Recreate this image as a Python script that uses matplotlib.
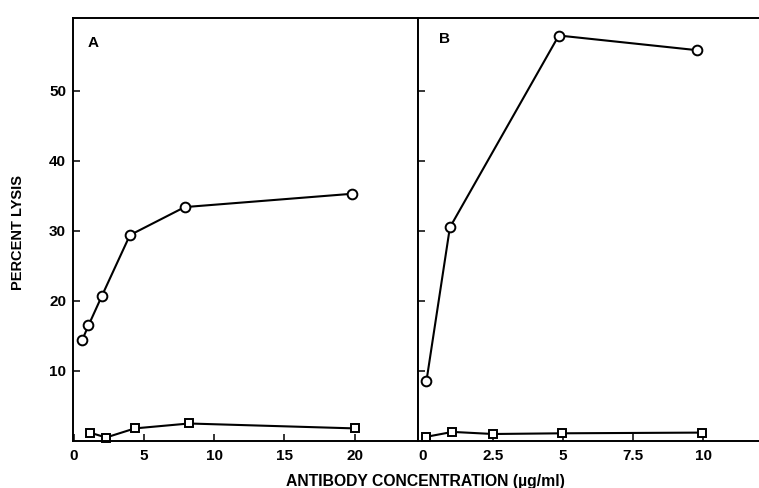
import matplotlib.pyplot as plt

plt.rcParams['font.family'] = ['Liberation Sans', 'DejaVu Sans']

# panel A data
a_circle_x = [0.6, 1.05, 2.0, 4.0, 7.9, 19.8]
a_circle_y = [14.4, 16.5, 20.7, 29.4, 33.4, 35.3]
a_square_x = [1.15, 2.3, 4.35, 8.2, 20.0]
a_square_y = [1.2, 0.5, 1.8, 2.5, 1.8]

# panel B data
b_circle_x = [0.12, 0.96, 4.85, 9.8]
b_circle_y = [8.5, 30.5, 57.9, 55.8]
b_square_x = [0.12, 1.05, 2.5, 4.95, 9.95]
b_square_y = [0.6, 1.3, 1.0, 1.1, 1.2]

y_ticks = [10, 20, 30, 40, 50]
a_xticks = [0, 5, 10, 15, 20]
b_xticks = [0, 2.5, 5, 7.5, 10]
b_xticklabels = ["0", "2.5", "5", "7.5", "10"]

fig = plt.figure(figsize=(7.59, 4.88), dpi=100)
axA = fig.add_axes([0.0962, 0.0963, 0.4545, 0.8668])
axB = fig.add_axes([0.5507, 0.0963, 0.4493, 0.8668])

circ = dict(marker='o', markersize=7, markerfacecolor='white',
            markeredgecolor='black', markeredgewidth=1.4, color='black', lw=1.5)
sq = dict(marker='s', markersize=5.5, markerfacecolor='white',
          markeredgecolor='black', markeredgewidth=1.4, color='black', lw=1.5)

axA.plot(a_circle_x, a_circle_y, **circ, clip_on=False)
axA.plot(a_square_x, a_square_y, **sq, clip_on=False)
axB.plot(b_circle_x, b_circle_y, **circ, clip_on=False)
axB.plot(b_square_x, b_square_y, **sq, clip_on=False)

axA.set_xlim(-0.05, 24.5)
axB.set_xlim(-0.18, 12.0)
for ax in (axA, axB):
    ax.set_ylim(0, 60.4)
    ax.set_yticks(y_ticks)
    ax.tick_params(direction='in', length=5, width=1.1, labelsize=11)
    ax.tick_params(axis='x', pad=6)
    ax.tick_params(axis='y', pad=5)
    for s in ax.spines.values():
        s.set_linewidth(1.4)

axA.set_xticks(a_xticks)
axB.set_xticks(b_xticks)
axB.set_xticklabels(b_xticklabels, fontweight='bold')
axA.set_xticklabels([str(t) for t in a_xticks], fontweight='bold')
axA.set_yticklabels([str(t) for t in y_ticks], fontweight='bold')
axB.tick_params(labelleft=False)
axB.spines['right'].set_visible(False)

axA.text(0.043, 0.94, "A", transform=axA.transAxes, fontsize=11,
         fontweight='bold', ha='left', va='center')
axB.text(0.062, 0.95, "B", transform=axB.transAxes, fontsize=11,
         fontweight='bold', ha='left', va='center')

fig.text(0.024, 0.523, "PERCENT LYSIS", rotation=90, fontsize=10.5,
         fontweight='bold', ha='center', va='center')
fig.text(0.56, 0.014, "ANTIBODY CONCENTRATION (\u00b5g/ml)", fontsize=11.3,
         fontweight='bold', ha='center', va='center')

plt.savefig("out.png", dpi=100)
